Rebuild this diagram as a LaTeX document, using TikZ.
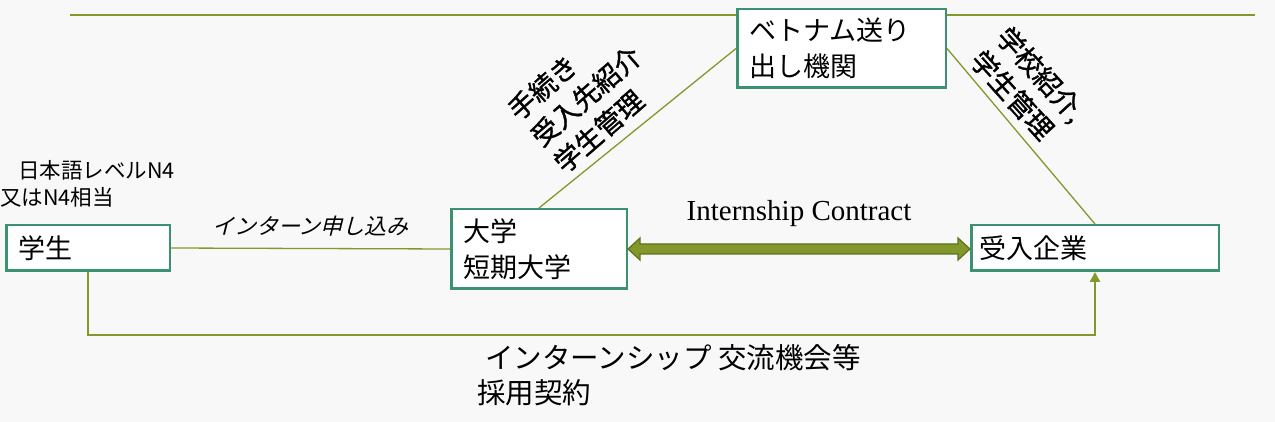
\documentclass[tikz,border=0pt]{standalone}
\usepackage{fontspec}
\setmainfont{Liberation Serif}
\newfontfamily\jp{Noto Sans CJK JP}
\newfontfamily\jpslant[FakeSlant=0.25]{Noto Sans CJK JP}
\newfontfamily\jpheavy[FakeBold=1.2]{Noto Sans CJK JP}
\usetikzlibrary{arrows.meta,calc}
\definecolor{boxgreen}{RGB}{58,146,112}
\definecolor{olive}{RGB}{130,152,42}
\definecolor{darkolive}{RGB}{96,114,30}
\definecolor{bgpaper}{RGB}{248,248,248}
\tikzset{
  orgbox/.style={draw=boxgreen, line width=2.5pt, fill=white, inner xsep=12pt,
    inner ysep=0pt, align=left, font=\jp\fontsize{27}{36}\selectfont},
  link/.style={draw=olive, line width=1.3pt},
  note/.style={font=\jpheavy\fontsize{27}{35}\selectfont, align=left, inner sep=0pt},
}

\begin{document}
\begin{tikzpicture}[x=1pt,y=-1pt]

  \fill[bgpaper] (0,0) rectangle (1275,422);
  \useasboundingbox (0,0) rectangle (1275,422);

  % Define nodes
  \coordinate (topL) at (70,15);
  \coordinate (topR) at (1255,15);
  \draw[olive, line width=2pt] (topL) -- (topR);

  \node[orgbox, text width=139.5pt, minimum height=45.5pt] (student) at (88,248) {学生};
  \node[orgbox, text width=151.5pt, minimum height=79.5pt] (univ) at (539,249) {大学\\短期大学};
  \node[orgbox, text width=184.5pt, minimum height=78.5pt] (sender) at (841.5,48.5) {ベトナム送り\\出し機関};
  \node[orgbox, inner xsep=8pt, text width=231.5pt, minimum height=45.5pt] (company) at (1095,248) {受入企業};

  \node[anchor=north west, align=left, inner sep=0pt, font=\jp\fontsize{21.5}{27}\selectfont]
    (level) at (0,160) {\hspace{18pt}日本語レベルN4\\又はN4相当};

  % Define links
  \draw[link] (student.east) -- (univ.west)
    node[midway, above=12pt, inner sep=0pt, font=\jpslant\fontsize{22}{26}\selectfont] (apply) {インターン申し込み};
  \draw[link] (univ.north) -- (sender.west);
  \draw[link] (sender.east) -- (company.north);

  \node[note, rotate=41] (proc) at (586,96) {手続き\\受入先紹介\\学生管理};
  \node[note, rotate=-48] (intro) at (1028,86) {学校紹介,\\学生管理};

  \coordinate (contractR) at (univ.east -| company.west);
  \filldraw[fill=olive, draw=darkolive, line width=1.2pt]
    (univ.east) -- ++(12,-11) -- ++(0,6) -- ($(contractR)+(-12,-5)$) -- ++(0,-6)
    -- (contractR) -- ++(-12,11) -- ++(0,-6) -- ($(univ.east)+(12,5)$) -- ++(0,6) -- cycle;
  \node[font=\fontsize{29}{32}\selectfont, inner sep=0pt] (contract)
    at ($(univ.east)!0.5!(contractR)+(0,-35)$) {Internship Contract};

  \draw[olive, line width=2.5pt, -{Triangle[width=10pt,length=10pt]}]
    (student.south) -- ++(0,63) -| (company.south);
  \node[anchor=north west, align=left, inner sep=0pt, font=\jp\fontsize{28.5}{35}\selectfont]
    (offer) at (477,344) {\hspace{8pt}インターンシップ 交流機会等\\採用契約};

\end{tikzpicture}
\end{document}
